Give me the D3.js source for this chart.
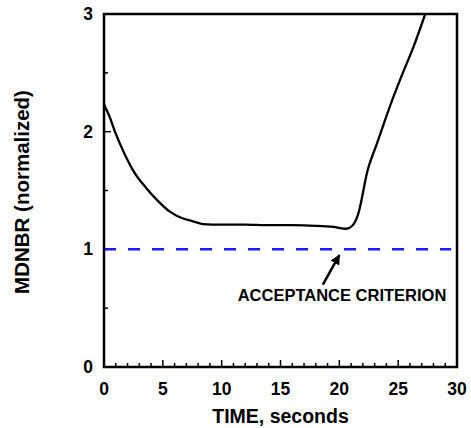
<!DOCTYPE html>
<html><head><meta charset="utf-8">
<script src="https://cdn.jsdelivr.net/npm/d3@7"></script>
<style>body{margin:0;background:#fff}text{font-family:"Liberation Sans",Arial,sans-serif;font-weight:bold}</style>
</head><body><svg id="c" width="471" height="428"></svg>
<script>
const timeS = [0, 0.5, 0.93, 1.8, 2.6, 3.6, 4.6, 5.6, 6.5, 7.5, 8.4, 10, 12, 14, 16, 18, 19.5, 20.6, 21.1, 21.6, 22.4, 23.2, 24.5, 25.4, 26.3, 27.3];
const mdnbr = [2.23, 2.12, 2.0, 1.8, 1.65, 1.52, 1.41, 1.32, 1.27, 1.24, 1.215, 1.21, 1.21, 1.205, 1.205, 1.2, 1.19, 1.175, 1.2, 1.3, 1.67, 1.9, 2.27, 2.5, 2.72, 3.0];
const criterionValue = 1;
const xTicks = [0, 5, 10, 15, 20, 25, 30];
const yTicks = [0, 1, 2, 3];
const xLabel = "TIME, seconds";
const yLabel = "MDNBR (normalized)";
const annotation = "ACCEPTANCE CRITERION";

const svg = d3.select("#c");
const L=104,R=457,T=14,B=367;
const x = d3.scaleLinear().domain([0,30]).range([L,R]);
const y = d3.scaleLinear().domain([0,3]).range([B,T]);

const g = svg.append("g");
g.selectAll(".mx").data(d3.range(1,30)).enter().append("line")
 .attr("x1",d=>x(d)).attr("x2",d=>x(d)).attr("y1",B).attr("y2",d=>d%5===0?B-7:B-4)
 .attr("stroke","#000").attr("stroke-width",1.5);
g.selectAll(".my").data([0.5,1,1.5,2,2.5]).enter().append("line")
 .attr("x1",L).attr("x2",d=>d%1===0?L+7:L+4).attr("y1",d=>y(d)).attr("y2",d=>y(d))
 .attr("stroke","#000").attr("stroke-width",1.5);

svg.append("line").attr("x1",x(0)).attr("x2",x(29.5)).attr("y1",y(criterionValue)).attr("y2",y(criterionValue))
 .attr("stroke","#1a1aff").attr("stroke-width",2.5).attr("stroke-dasharray","12,12");

svg.append("path").datum(timeS.map((t,i)=>[t,mdnbr[i]]))
 .attr("d",d3.line().x(d=>x(d[0])).y(d=>y(d[1])).curve(d3.curveMonotoneX))
 .attr("fill","none").attr("stroke","#000").attr("stroke-width",2.3);

svg.append("rect").attr("x",L).attr("y",T).attr("width",R-L).attr("height",B-T)
 .attr("fill","none").attr("stroke","#000").attr("stroke-width",2.5);

svg.selectAll(".xl").data(xTicks).enter().append("text").attr("x",d=>x(d)).attr("y",B+28)
 .attr("text-anchor","middle").attr("font-size",17.5).text(d=>d);
svg.selectAll(".yl").data(yTicks).enter().append("text").attr("x",L-11).attr("y",d=>y(d)+6)
 .attr("text-anchor","end").attr("font-size",17.5).text(d=>d);

svg.append("text").attr("x",(L+R)/2).attr("y",423).attr("text-anchor","middle").attr("font-size",19.5).text(xLabel);
svg.append("text").attr("transform","translate(29,192) rotate(-90)").attr("text-anchor","middle").attr("font-size",20.5).text(yLabel);

svg.append("text").attr("x",342).attr("y",301).attr("text-anchor","middle").attr("font-size",16.5).text(annotation);
svg.append("defs").append("marker").attr("id","ah").attr("viewBox","0 0 10 10").attr("refX",9).attr("refY",5)
 .attr("markerWidth",4).attr("markerHeight",4).attr("orient","auto")
 .append("path").attr("d","M0,0 L10,5 L0,10 z").attr("fill","#000");
svg.append("line").attr("x1",x(18.6)).attr("y1",y(0.7)).attr("x2",x(20)).attr("y2",y(0.95))
 .attr("stroke","#000").attr("stroke-width",2.5).attr("marker-end","url(#ah)");
</script></body></html>
